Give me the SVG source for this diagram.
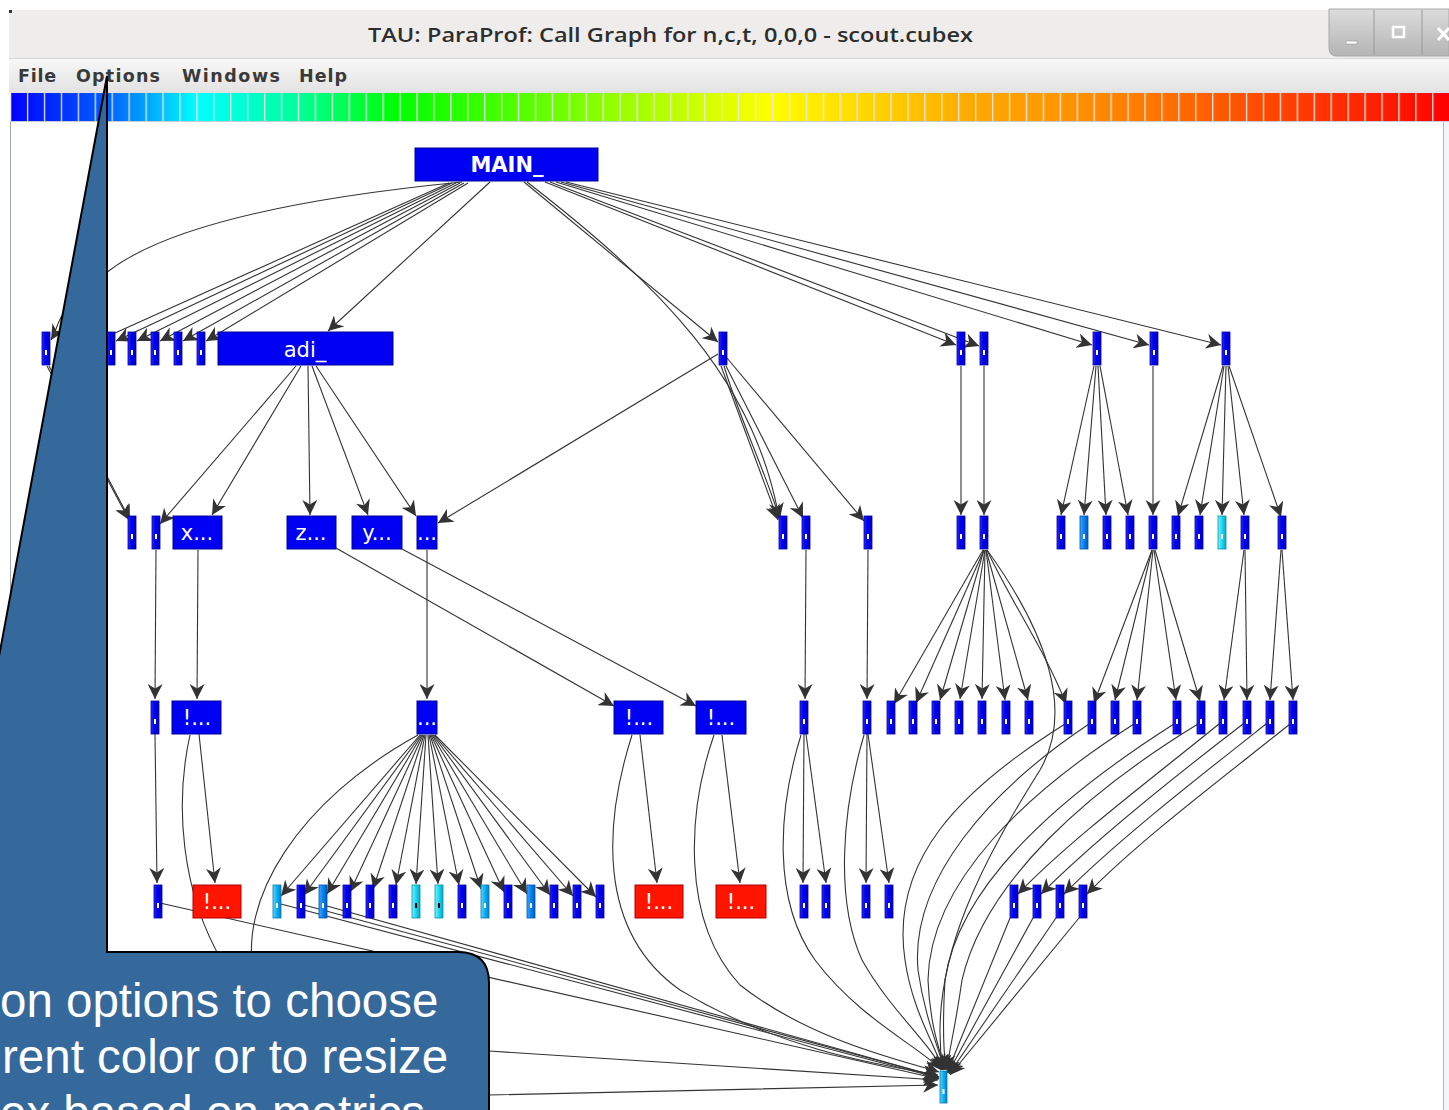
<svg xmlns="http://www.w3.org/2000/svg" width="1449" height="1110" viewBox="0 0 1449 1110">
<defs>
<linearGradient id="gBar" x1="0" y1="0" x2="1" y2="0">
<stop offset="0" stop-color="#0000ff"/><stop offset="0.068" stop-color="#0060ff"/><stop offset="0.13" stop-color="#00ffff"/><stop offset="0.2" stop-color="#00ff99"/><stop offset="0.27" stop-color="#00ff00"/><stop offset="0.4" stop-color="#80ff00"/><stop offset="0.528" stop-color="#ffff00"/><stop offset="0.618" stop-color="#ffc800"/><stop offset="0.67" stop-color="#ffa800"/><stop offset="0.73" stop-color="#ff9600"/><stop offset="0.79" stop-color="#ff7800"/><stop offset="0.85" stop-color="#ff5500"/><stop offset="0.91" stop-color="#ff3500"/><stop offset="0.97" stop-color="#ff1500"/><stop offset="1" stop-color="#ff0000"/>
</linearGradient>
<pattern id="gap" x="10" y="0" width="16.93" height="40" patternUnits="userSpaceOnUse"><rect x="0" y="0" width="1.3" height="40" fill="#e6e6e6"/></pattern>
<linearGradient id="gMenu" x1="0" y1="0" x2="0" y2="1"><stop offset="0" stop-color="#f8f8f8"/><stop offset="1" stop-color="#e3e3e3"/></linearGradient>
<linearGradient id="gBtn" x1="0" y1="0" x2="0" y2="1"><stop offset="0" stop-color="#dcdcdc"/><stop offset="1" stop-color="#b4b4b4"/></linearGradient>
<linearGradient id="gB" x1="0" y1="0" x2="1" y2="0"><stop offset="0" stop-color="#2a2aff"/><stop offset="0.4" stop-color="#0000f4"/><stop offset="1" stop-color="#0000c4"/></linearGradient>
<linearGradient id="gC" x1="0" y1="0" x2="1" y2="0"><stop offset="0" stop-color="#7af4ff"/><stop offset="0.45" stop-color="#20dcf2"/><stop offset="1" stop-color="#06a6c6"/></linearGradient>
<linearGradient id="gM" x1="0" y1="0" x2="1" y2="0"><stop offset="0" stop-color="#5ad8ff"/><stop offset="0.45" stop-color="#12b2f2"/><stop offset="1" stop-color="#0080c8"/></linearGradient>
<linearGradient id="gL" x1="0" y1="0" x2="1" y2="0"><stop offset="0" stop-color="#3aa8ff"/><stop offset="0.45" stop-color="#0a86f2"/><stop offset="1" stop-color="#0058c8"/></linearGradient>
<marker id="ah" viewBox="0 0 15 15" refX="15" refY="7.5" markerWidth="15" markerHeight="15" markerUnits="userSpaceOnUse" orient="auto"><path d="M0,0 L15,7.5 L0,15 L4.5,7.5 Z" fill="#333"/></marker>
<style>
.e{fill:none;stroke:#333;stroke-width:1.1;marker-end:url(#ah)}
.b{fill:url(#gB);stroke:#0000a0;stroke-width:0.8}
.bx{fill:#0000f2;stroke:#00009a;stroke-width:1}
.c{fill:url(#gC);stroke:#0890a8;stroke-width:0.8}
.m{fill:url(#gM);stroke:#0878b0;stroke-width:0.8}
.l{fill:url(#gL);stroke:#0050b0;stroke-width:0.8}
.r{fill:#ff1400;stroke:#b00000;stroke-width:1}
.w{fill:#ffffff}
.k{fill:#000000}
.t{font-family:"DejaVu Sans",sans-serif;font-size:21px;fill:#ffffff;text-anchor:middle}
.mn{font-family:"DejaVu Sans",sans-serif;font-weight:bold;font-size:17.5px;fill:#3a3a3a}
.co{font-family:"Liberation Sans",Arial,sans-serif;font-size:47.5px;fill:#ffffff}
</style>
</defs>

<!-- window chrome -->
<rect x="0" y="0" width="1449" height="1110" fill="#ffffff"/>
<rect x="9" y="10" width="1440" height="48" fill="#eeedec"/>
<rect x="9" y="10" width="3" height="3" fill="#333"/>
<text x="368" y="42" font-family="'Open Sans','DejaVu Sans',sans-serif" font-weight="600" font-size="19" fill="#2e2e2e" textLength="605" lengthAdjust="spacingAndGlyphs">TAU: ParaProf: Call Graph for n,c,t, 0,0,0 - scout.cubex</text>
<g id="winbuttons">
<path d="M1329,9 L1449,9 L1449,56 L1337,56 Q1329,56 1329,48 Z" fill="url(#gBtn)" stroke="#a8a8a8"/>
<line x1="1374" y1="10" x2="1374" y2="55" stroke="#9a9a9a"/>
<line x1="1422" y1="10" x2="1422" y2="55" stroke="#9a9a9a"/>
<rect x="1346" y="41" width="11" height="3" fill="#ffffff" stroke="#888" stroke-width="0.5"/>
<rect x="1393" y="27" width="11" height="10" fill="none" stroke="#ffffff" stroke-width="2.5"/>
<path d="M1438,28 L1449,40 M1449,28 L1438,40" stroke="#ffffff" stroke-width="3"/>
</g>
<rect x="9" y="58" width="1440" height="34" fill="url(#gMenu)"/>
<line x1="9" y1="58.5" x2="1449" y2="58.5" stroke="#d8d8d8"/>
<text class="mn" x="18" y="82" textLength="38" lengthAdjust="spacing">File</text>
<text class="mn" x="76" y="82" textLength="84" lengthAdjust="spacing">Options</text>
<text class="mn" x="182" y="82" textLength="98" lengthAdjust="spacing">Windows</text>
<text class="mn" x="299" y="82" textLength="48" lengthAdjust="spacing">Help</text>
<rect x="10" y="92" width="1439" height="30" fill="url(#gBar)"/>
<rect x="10" y="92" width="1439" height="30" fill="url(#gap)"/>
<line x1="10" y1="92.5" x2="1449" y2="92.5" stroke="#e0e0e0"/>
<line x1="10" y1="121.5" x2="1449" y2="121.5" stroke="#c8ccd4"/>
<rect x="10" y="122" width="1433" height="988" fill="#ffffff"/>
<line x1="10.5" y1="122" x2="10.5" y2="1110" stroke="#9eaabb"/>
<rect x="1443" y="122" width="6" height="988" fill="#f3f5f9"/>
<line x1="1443.5" y1="122" x2="1443.5" y2="1110" stroke="#a9b9d0"/>

<!-- connectors -->
<g id="edges">
<path class="e" d="M462,182 C300,198 170,225 110,270 S62,322 51,340"/>
<path class="e" d="M449,183 L95,342"/>
<path class="e" d="M452,183 L116,341"/>
<path class="e" d="M456,183 L137,341"/>
<path class="e" d="M460,183 L160,341"/>
<path class="e" d="M464,183 L183,341"/>
<path class="e" d="M468,183 L206,341"/>
<path class="e" d="M490,182 L328,331"/>
<path class="e" d="M524,182 L718,342"/>
<path class="e" d="M527,182 C660,285 755,380 779,518"/>
<path class="e" d="M545,182 L956,345"/>
<path class="e" d="M550,182 L979,346"/>
<path class="e" d="M556,182 L1092,345"/>
<path class="e" d="M561,182 L1149,345"/>
<path class="e" d="M566,182 L1221,345"/>
<path class="e" d="M47,366 L129,520"/>
<path class="e" d="M49,366 L130,520"/>
<path class="e" d="M296,366 L160,524"/>
<path class="e" d="M301,366 L212,515"/>
<path class="e" d="M308,366 L310,515"/>
<path class="e" d="M312,366 L368,515"/>
<path class="e" d="M316,366 L416,516"/>
<path class="e" d="M721,366 L778,520"/>
<path class="e" d="M724,366 C740,420 765,470 780,520"/>
<path class="e" d="M726,366 L803,518"/>
<path class="e" d="M727,358 L864,521"/>
<path class="e" d="M718,354 L438,523"/>
<path class="e" d="M961,366 L961,515"/>
<path class="e" d="M984,366 L984,515"/>
<path class="e" d="M1094,366 L1061,515"/>
<path class="e" d="M1096,366 L1084,515"/>
<path class="e" d="M1098,366 L1106,515"/>
<path class="e" d="M1100,366 L1128,515"/>
<path class="e" d="M1153,366 L1153,515"/>
<path class="e" d="M1223,366 L1178,516"/>
<path class="e" d="M1224,366 L1200,515"/>
<path class="e" d="M1226,366 L1222,515"/>
<path class="e" d="M1228,366 L1244,515"/>
<path class="e" d="M1229,366 L1281,517"/>
<path class="e" d="M156,550 L155,699"/>
<path class="e" d="M198,550 L197,699"/>
<path class="e" d="M336,548 L614,706"/>
<path class="e" d="M402,549 L696,706"/>
<path class="e" d="M427,550 L427,699"/>
<path class="e" d="M806,550 L805,699"/>
<path class="e" d="M868,550 L867,699"/>
<path class="e" d="M983,550 L894,704"/>
<path class="e" d="M984,550 L916,703"/>
<path class="e" d="M984,550 L940,700"/>
<path class="e" d="M985,550 L960,699"/>
<path class="e" d="M985,550 L982,699"/>
<path class="e" d="M986,550 L1005,700"/>
<path class="e" d="M986,550 L1028,700"/>
<path class="e" d="M987,550 C1010,600 1045,650 1066,704"/>
<path class="e" d="M1152,550 L1094,703"/>
<path class="e" d="M1152,550 L1115,700"/>
<path class="e" d="M1153,550 L1137,700"/>
<path class="e" d="M1154,550 L1176,700"/>
<path class="e" d="M1155,550 L1200,701"/>
<path class="e" d="M1244,550 L1224,700"/>
<path class="e" d="M1245,550 L1247,700"/>
<path class="e" d="M1281,550 L1270,700"/>
<path class="e" d="M1282,550 L1293,700"/>
<path class="e" d="M155,734 L157,883"/>
<path class="e" d="M199,734 L215,883"/>
<path class="e" d="M420,735 L281,896"/>
<path class="e" d="M421,735 L304,895"/>
<path class="e" d="M422,735 L327,894"/>
<path class="e" d="M423,735 L350,892"/>
<path class="e" d="M424,735 L373,889"/>
<path class="e" d="M425,735 L396,885"/>
<path class="e" d="M426,735 L416,884"/>
<path class="e" d="M428,735 L438,884"/>
<path class="e" d="M429,735 L459,885"/>
<path class="e" d="M430,735 L481,889"/>
<path class="e" d="M431,735 L504,892"/>
<path class="e" d="M432,735 L527,894"/>
<path class="e" d="M433,735 L550,895"/>
<path class="e" d="M434,735 L573,896"/>
<path class="e" d="M435,735 L596,897"/>
<path class="e" d="M640,735 L657,883"/>
<path class="e" d="M722,735 L740,883"/>
<path class="e" d="M804,734 L803,883"/>
<path class="e" d="M806,734 L826,883"/>
<path class="e" d="M867,734 L866,883"/>
<path class="e" d="M868,734 L889,883"/>
<path class="e" d="M1219,724 C1150,780 1070,840 1018,894"/>
<path class="e" d="M1243,724 C1170,780 1095,840 1041,894"/>
<path class="e" d="M1266,724 C1195,780 1118,840 1064,894"/>
<path class="e" d="M1290,724 C1220,780 1140,840 1087,894"/>
<path class="e" d="M160,903 L939,1079"/>
<path class="e" d="M281,904 L939,1078"/>
<path class="e" d="M304,905 L939,1077"/>
<path class="e" d="M327,906 L939,1077"/>
<path class="e" d="M190,735 C160,870 210,1090 489,1095 L938,1085"/>
<path class="e" d="M418,735 C300,800 235,900 255,980 C275,1040 400,1050 489,1051 L938,1080"/>
<path class="e" d="M632,735 C605,820 595,930 680,990 C780,1050 880,1065 938,1075"/>
<path class="e" d="M714,735 C688,810 680,920 740,985 C810,1040 900,1060 939,1072"/>
<path class="e" d="M801,735 C778,810 772,900 815,960 C860,1020 925,1050 941,1070"/>
<path class="e" d="M864,735 C842,810 835,900 862,960 C890,1010 932,1045 942,1070"/>
<path class="e" d="M987,550 C1045,630 1075,710 1040,770 C990,850 925,960 943,1070"/>
<path class="e" d="M1065,724 C960,790 890,860 905,960 C912,1010 935,1045 943,1070"/>
<path class="e" d="M1089,724 C990,790 910,880 918,970 C925,1020 940,1050 944,1070"/>
<path class="e" d="M1134,724 C1030,790 930,880 928,980 C930,1030 942,1055 945,1070"/>
<path class="e" d="M1174,724 C1070,790 960,880 945,980 C942,1030 944,1055 946,1070"/>
<path class="e" d="M1198,724 C1090,790 985,880 962,980 C955,1030 948,1055 947,1070"/>
<path class="e" d="M1010,918 L947,1073"/>
<path class="e" d="M1033,918 L948,1073"/>
<path class="e" d="M1056,918 L949,1074"/>
<path class="e" d="M1079,918 L950,1075"/>
</g>

<!-- nodes -->
<g id="n-main"><rect class="bx" x="415" y="148" width="183" height="33"/><text class="t" x="507" y="172" font-size="23" font-weight="bold">MAIN_</text></g>
<g id="n-adi"><rect class="bx" x="218" y="332" width="175" height="33"/><text class="t" x="305" y="357" font-size="23">adi_</text></g>
<g id="r1-42"><rect class="b" x="42" y="332" width="8" height="33"/><rect class="w" x="45" y="350" width="2" height="5"/></g>
<g id="r1-107"><rect class="b" x="107" y="332" width="8" height="33"/><rect class="w" x="110" y="350" width="2" height="5"/></g>
<g id="r1-128"><rect class="b" x="128" y="332" width="8" height="33"/><rect class="w" x="131" y="350" width="2" height="5"/></g>
<g id="r1-151"><rect class="b" x="151" y="332" width="8" height="33"/><rect class="w" x="154" y="350" width="2" height="5"/></g>
<g id="r1-174"><rect class="b" x="174" y="332" width="8" height="33"/><rect class="w" x="177" y="350" width="2" height="5"/></g>
<g id="r1-197"><rect class="b" x="197" y="332" width="8" height="33"/><rect class="w" x="200" y="350" width="2" height="5"/></g>
<g id="r1-719"><rect class="b" x="719" y="332" width="8" height="33"/><rect class="w" x="722" y="350" width="2" height="5"/></g>
<g id="r1-957"><rect class="b" x="957" y="332" width="8" height="33"/><rect class="w" x="960" y="350" width="2" height="5"/></g>
<g id="r1-980"><rect class="b" x="980" y="332" width="8" height="33"/><rect class="w" x="983" y="350" width="2" height="5"/></g>
<g id="r1-1093"><rect class="b" x="1093" y="332" width="8" height="33"/><rect class="w" x="1096" y="350" width="2" height="5"/></g>
<g id="r1-1150"><rect class="b" x="1150" y="332" width="8" height="33"/><rect class="w" x="1153" y="350" width="2" height="5"/></g>
<g id="r1-1222"><rect class="b" x="1222" y="332" width="8" height="33"/><rect class="w" x="1225" y="350" width="2" height="5"/></g>

<g id="r2-128"><rect class="b" x="128" y="516" width="8" height="33"/><rect class="w" x="131" y="534" width="2" height="5"/></g>
<g id="r2-152"><rect class="b" x="152" y="516" width="8" height="33"/><rect class="w" x="155" y="534" width="2" height="5"/></g>
<g id="n-x"><rect class="bx" x="173" y="516" width="49" height="33"/><text class="t" x="197" y="540">x...</text></g>
<g id="n-z"><rect class="bx" x="287" y="516" width="49" height="33"/><text class="t" x="311" y="540">z...</text></g>
<g id="n-y"><rect class="bx" x="352" y="516" width="50" height="33"/><text class="t" x="377" y="540">y...</text></g>
<g id="n-dots2"><rect class="bx" x="417" y="516" width="20" height="33"/><text class="t" x="427" y="540">...</text></g>
<g id="r2-779"><rect class="b" x="779" y="516" width="8" height="33"/><rect class="w" x="782" y="534" width="2" height="5"/></g>
<g id="r2-802"><rect class="b" x="802" y="516" width="8" height="33"/><rect class="w" x="805" y="534" width="2" height="5"/></g>
<g id="r2-864"><rect class="b" x="864" y="516" width="8" height="33"/><rect class="w" x="867" y="534" width="2" height="5"/></g>
<g id="r2-957"><rect class="b" x="957" y="516" width="8" height="33"/><rect class="w" x="960" y="534" width="2" height="5"/></g>
<g id="r2-980"><rect class="b" x="980" y="516" width="8" height="33"/><rect class="w" x="983" y="534" width="2" height="5"/></g>
<g id="r2-1057"><rect class="b" x="1057" y="516" width="8" height="33"/><rect class="w" x="1060" y="534" width="2" height="5"/></g>
<g id="r2-1080"><rect class="l" x="1080" y="516" width="8" height="33"/><rect class="w" x="1083" y="534" width="2" height="5"/></g>
<g id="r2-1103"><rect class="b" x="1103" y="516" width="8" height="33"/><rect class="w" x="1106" y="534" width="2" height="5"/></g>
<g id="r2-1126"><rect class="b" x="1126" y="516" width="8" height="33"/><rect class="w" x="1129" y="534" width="2" height="5"/></g>
<g id="r2-1149"><rect class="b" x="1149" y="516" width="8" height="33"/><rect class="w" x="1152" y="534" width="2" height="5"/></g>
<g id="r2-1172"><rect class="b" x="1172" y="516" width="8" height="33"/><rect class="w" x="1175" y="534" width="2" height="5"/></g>
<g id="r2-1195"><rect class="b" x="1195" y="516" width="8" height="33"/><rect class="w" x="1198" y="534" width="2" height="5"/></g>
<g id="r2-1218"><rect class="c" x="1218" y="516" width="8" height="33"/><rect class="w" x="1221" y="534" width="2" height="5"/></g>
<g id="r2-1241"><rect class="b" x="1241" y="516" width="8" height="33"/><rect class="w" x="1244" y="534" width="2" height="5"/></g>
<g id="r2-1278"><rect class="b" x="1278" y="516" width="8" height="33"/><rect class="w" x="1281" y="534" width="2" height="5"/></g>

<g id="r3-151"><rect class="b" x="151" y="701" width="8" height="33"/><rect class="w" x="154" y="719" width="2" height="5"/></g>
<g id="n-ex1"><rect class="bx" x="172" y="701" width="49" height="33"/><text class="t" x="197" y="725">!...</text></g>
<g id="n-dots3"><rect class="bx" x="417" y="701" width="20" height="33"/><text class="t" x="427" y="725">...</text></g>
<g id="n-ex2"><rect class="bx" x="614" y="701" width="49" height="33"/><text class="t" x="639" y="725">!...</text></g>
<g id="n-ex3"><rect class="bx" x="696" y="701" width="50" height="33"/><text class="t" x="721" y="725">!...</text></g>
<g id="r3-800"><rect class="b" x="800" y="701" width="8" height="33"/><rect class="w" x="803" y="719" width="2" height="5"/></g>
<g id="r3-863"><rect class="b" x="863" y="701" width="8" height="33"/><rect class="w" x="866" y="719" width="2" height="5"/></g>
<g id="r3-887"><rect class="b" x="887" y="701" width="8" height="33"/><rect class="w" x="890" y="719" width="2" height="5"/></g>
<g id="r3-909"><rect class="b" x="909" y="701" width="8" height="33"/><rect class="w" x="912" y="719" width="2" height="5"/></g>
<g id="r3-932"><rect class="b" x="932" y="701" width="8" height="33"/><rect class="w" x="935" y="719" width="2" height="5"/></g>
<g id="r3-955"><rect class="b" x="955" y="701" width="8" height="33"/><rect class="w" x="958" y="719" width="2" height="5"/></g>
<g id="r3-978"><rect class="b" x="978" y="701" width="8" height="33"/><rect class="w" x="981" y="719" width="2" height="5"/></g>
<g id="r3-1002"><rect class="b" x="1002" y="701" width="8" height="33"/><rect class="w" x="1005" y="719" width="2" height="5"/></g>
<g id="r3-1025"><rect class="b" x="1025" y="701" width="8" height="33"/><rect class="w" x="1028" y="719" width="2" height="5"/></g>
<g id="r3-1064"><rect class="b" x="1064" y="701" width="8" height="33"/><rect class="w" x="1067" y="719" width="2" height="5"/></g>
<g id="r3-1088"><rect class="b" x="1088" y="701" width="8" height="33"/><rect class="w" x="1091" y="719" width="2" height="5"/></g>
<g id="r3-1111"><rect class="b" x="1111" y="701" width="8" height="33"/><rect class="w" x="1114" y="719" width="2" height="5"/></g>
<g id="r3-1133"><rect class="b" x="1133" y="701" width="8" height="33"/><rect class="w" x="1136" y="719" width="2" height="5"/></g>
<g id="r3-1173"><rect class="b" x="1173" y="701" width="8" height="33"/><rect class="w" x="1176" y="719" width="2" height="5"/></g>
<g id="r3-1197"><rect class="b" x="1197" y="701" width="8" height="33"/><rect class="w" x="1200" y="719" width="2" height="5"/></g>
<g id="r3-1219"><rect class="b" x="1219" y="701" width="8" height="33"/><rect class="w" x="1222" y="719" width="2" height="5"/></g>
<g id="r3-1243"><rect class="b" x="1243" y="701" width="8" height="33"/><rect class="w" x="1246" y="719" width="2" height="5"/></g>
<g id="r3-1266"><rect class="b" x="1266" y="701" width="8" height="33"/><rect class="w" x="1269" y="719" width="2" height="5"/></g>
<g id="r3-1289"><rect class="b" x="1289" y="701" width="8" height="33"/><rect class="w" x="1292" y="719" width="2" height="5"/></g>

<g id="r4-154"><rect class="b" x="154" y="885" width="8" height="33"/><rect class="w" x="157" y="903" width="2" height="5"/></g>
<g id="n-red1"><rect class="r" x="193" y="885" width="48" height="33"/><text class="t" x="217" y="909">!...</text></g>
<g id="r4-273"><rect class="m" x="273" y="885" width="8" height="33"/><rect class="w" x="276" y="903" width="2" height="5"/></g>
<g id="r4-297"><rect class="b" x="297" y="885" width="8" height="33"/><rect class="w" x="300" y="903" width="2" height="5"/></g>
<g id="r4-319"><rect class="l" x="319" y="885" width="8" height="33"/><rect class="w" x="322" y="903" width="2" height="5"/></g>
<g id="r4-343"><rect class="b" x="343" y="885" width="8" height="33"/><rect class="w" x="346" y="903" width="2" height="5"/></g>
<g id="r4-366"><rect class="b" x="366" y="885" width="8" height="33"/><rect class="w" x="369" y="903" width="2" height="5"/></g>
<g id="r4-389"><rect class="b" x="389" y="885" width="8" height="33"/><rect class="w" x="392" y="903" width="2" height="5"/></g>
<g id="r4-412"><rect class="c" x="412" y="885" width="8" height="33"/><rect class="k" x="415" y="903" width="2" height="5"/></g>
<g id="r4-435"><rect class="c" x="435" y="885" width="8" height="33"/><rect class="k" x="438" y="903" width="2" height="5"/></g>
<g id="r4-458"><rect class="b" x="458" y="885" width="8" height="33"/><rect class="w" x="461" y="903" width="2" height="5"/></g>
<g id="r4-481"><rect class="m" x="481" y="885" width="8" height="33"/><rect class="w" x="484" y="903" width="2" height="5"/></g>
<g id="r4-504"><rect class="b" x="504" y="885" width="8" height="33"/><rect class="w" x="507" y="903" width="2" height="5"/></g>
<g id="r4-527"><rect class="l" x="527" y="885" width="8" height="33"/><rect class="w" x="530" y="903" width="2" height="5"/></g>
<g id="r4-550"><rect class="b" x="550" y="885" width="8" height="33"/><rect class="w" x="553" y="903" width="2" height="5"/></g>
<g id="r4-573"><rect class="b" x="573" y="885" width="8" height="33"/><rect class="w" x="576" y="903" width="2" height="5"/></g>
<g id="r4-596"><rect class="b" x="596" y="885" width="8" height="33"/><rect class="w" x="599" y="903" width="2" height="5"/></g>
<g id="n-red2"><rect class="r" x="635" y="885" width="48" height="33"/><text class="t" x="659" y="909">!...</text></g>
<g id="n-red3"><rect class="r" x="716" y="885" width="50" height="33"/><text class="t" x="741" y="909">!...</text></g>
<g id="r4-800"><rect class="b" x="800" y="885" width="8" height="33"/><rect class="w" x="803" y="903" width="2" height="5"/></g>
<g id="r4-822"><rect class="b" x="822" y="885" width="8" height="33"/><rect class="w" x="825" y="903" width="2" height="5"/></g>
<g id="r4-862"><rect class="b" x="862" y="885" width="8" height="33"/><rect class="w" x="865" y="903" width="2" height="5"/></g>
<g id="r4-885"><rect class="b" x="885" y="885" width="8" height="33"/><rect class="w" x="888" y="903" width="2" height="5"/></g>
<g id="r4-1010"><rect class="b" x="1010" y="885" width="8" height="33"/><rect class="w" x="1013" y="903" width="2" height="5"/></g>
<g id="r4-1033"><rect class="b" x="1033" y="885" width="8" height="33"/><rect class="w" x="1036" y="903" width="2" height="5"/></g>
<g id="r4-1056"><rect class="b" x="1056" y="885" width="8" height="33"/><rect class="w" x="1059" y="903" width="2" height="5"/></g>
<g id="r4-1079"><rect class="b" x="1079" y="885" width="8" height="33"/><rect class="w" x="1082" y="903" width="2" height="5"/></g>
<g id="r5-940"><rect class="m" x="940" y="1071" width="7" height="32"/><rect class="w" x="942.5" y="1089" width="2" height="5"/></g>

<!-- callout -->
<g id="callout">
<path d="M107,76 L-5,678 L-5,1115 L489,1115 L489,983 Q489,952 458,952 L107,952 Z" fill="#35689b" stroke="#000" stroke-width="2"/>
<text class="co" x="0" y="1017">on options to choose</text>
<text class="co" x="2" y="1073">rent color or to resize</text>
<text class="co" x="0" y="1129">ex based on metrics</text>
</g>
</svg>
